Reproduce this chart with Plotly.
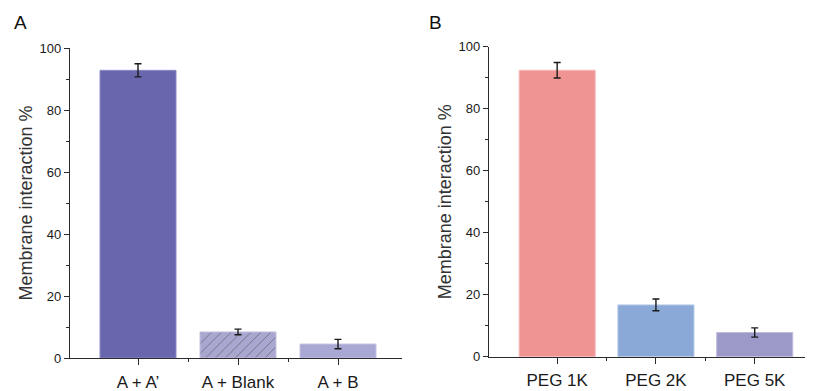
import plotly.graph_objects as go

# Panel A data
cats_a = ["A + A\u2019", "A + Blank", "A + B"]
vals_a = [92.8, 8.4, 4.5]
errs_a = [2.1, 0.9, 1.5]
colors_a = ["#6866AC", "#A9A6D0", "#A9A7D3"]
edge_a = ["#8D8BC4", "#C4C2E0", "#C4C3E2"]
patterns_a = ["", "/", ""]

# Panel B data
cats_b = ["PEG 1K", "PEG 2K", "PEG 5K"]
vals_b = [92.4, 16.7, 7.8]
errs_b = [2.5, 1.9, 1.5]
colors_b = ["#F09493", "#8BA9D6", "#9C99C8"]
edge_b = ["#F6B9B8", "#B3C8E7", "#BEBCDD"]

y_title = "Membrane interaction %"
y_ticks = [0, 20, 40, 60, 80, 100]

FONT = "Liberation Sans, Arial, sans-serif"
AX = "#2b2b2b"

# page body has an 8px margin; size the figure to fill the rest of the window
OFF = 8
W, H = 813 - OFF, 391 - OFF


def xp(px):
    return (px - OFF) / W


def yp(py):
    return 1 - (py - OFF) / H


fig = go.Figure()

pos_a = list(range(len(cats_a)))
pos_b = list(range(len(cats_b)))

fig.add_trace(go.Bar(
    x=pos_a, y=vals_a, width=0.76,
    marker=dict(color=colors_a, line=dict(color=edge_a, width=1),
                pattern=dict(shape=patterns_a, fgcolor="#55538E", bgcolor="#A9A6D0",
                             size=7, solidity=0.14, fillmode="overlay")),
    error_y=dict(type="data", array=errs_a, color="#1a1a1a", thickness=1.4, width=3.5),
    xaxis="x", yaxis="y", showlegend=False))

fig.add_trace(go.Bar(
    x=pos_b, y=vals_b, width=0.77,
    marker=dict(color=colors_b, line=dict(color=edge_b, width=1)),
    error_y=dict(type="data", array=errs_b, color="#1a1a1a", thickness=1.4, width=3.5),
    xaxis="x2", yaxis="y2", showlegend=False))


def xax(domain, rng, ticktext, anchor):
    return dict(domain=domain, range=rng, anchor=anchor,
                tickmode="array", tickvals=list(range(len(ticktext))), ticktext=ticktext,
                showline=True, linecolor=AX, linewidth=1.4, ticks="outside",
                ticklen=6, tickwidth=1.3, tickcolor=AX,
                minor=dict(tickmode="array", tickvals=[0.5, 1.5], ticklen=3,
                           tickwidth=1.2, tickcolor=AX, ticks="outside"),
                tickfont=dict(family=FONT, size=17, color="#1a1a1a"),
                ticklabelstandoff=2,
                showgrid=False, zeroline=False, fixedrange=True)


def yax(domain, anchor):
    return dict(domain=domain, range=[0, 100], anchor=anchor,
                tickmode="array", tickvals=y_ticks,
                showline=True, linecolor=AX, linewidth=1.4, ticks="outside",
                ticklen=5, tickwidth=1.3, tickcolor=AX,
                minor=dict(dtick=10, tick0=0, ticklen=3, tickwidth=1.2,
                           tickcolor=AX, ticks="outside"),
                tickfont=dict(family=FONT, size=13, color="#1a1a1a"),
                title=dict(text=y_title, font=dict(family=FONT, size=18, color="#333333"),
                           standoff=2),
                showgrid=False, zeroline=False, fixedrange=True)


fig.update_layout(
    width=W, height=H,
    margin=dict(l=0, r=0, t=0, b=0, autoexpand=False),
    paper_bgcolor="white", plot_bgcolor="white",
    xaxis=xax([xp(70), xp(402)], [-0.68, 2.64], cats_a, "y"),
    yaxis=yax([yp(358), yp(48)], "x"),
    xaxis2=xax([xp(489), 1.0], [-0.69, 2.59], cats_b, "y2"),
    yaxis2=yax([yp(356.7), yp(46.7)], "x2"),
    annotations=[
        dict(text="A", x=xp(12), y=yp(23), xref="paper", yref="paper",
             xanchor="left", yanchor="middle", showarrow=False,
             font=dict(family=FONT, size=19, color="#111111")),
        dict(text="B", x=xp(427), y=yp(23), xref="paper", yref="paper",
             xanchor="left", yanchor="middle", showarrow=False,
             font=dict(family=FONT, size=19, color="#111111")),
    ],
)

fig.write_html("out.html")
